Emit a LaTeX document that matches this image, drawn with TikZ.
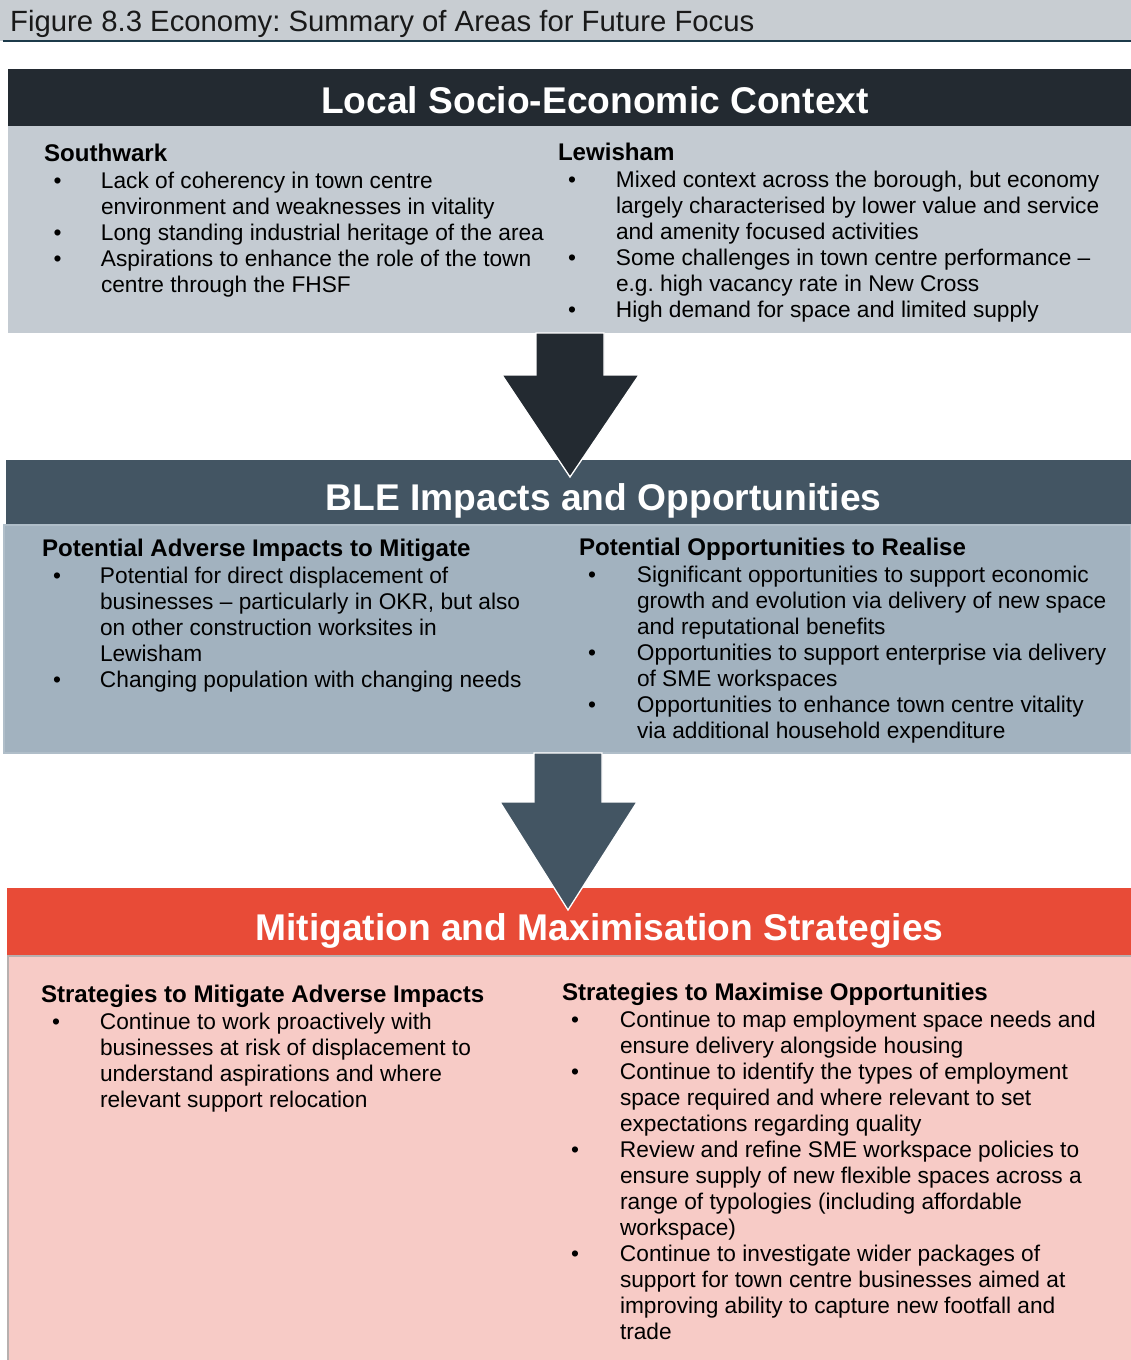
\documentclass[tikz,border=0pt]{standalone}
\usepackage{fontspec}
\setmainfont{Liberation Sans}
\usepackage{array}
\frenchspacing
\definecolor{titleband}{HTML}{C8CDD2}
\definecolor{titlerule}{HTML}{1C3A4A}
\definecolor{hdrA}{HTML}{232A31}
\definecolor{bodyA}{HTML}{C4CBD2}
\definecolor{hdrB}{HTML}{435563}
\definecolor{bodyB}{HTML}{A2B2BF}
\definecolor{hdrC}{HTML}{E84B37}
\definecolor{bodyC}{HTML}{F7CBC6}
\definecolor{edgeC}{HTML}{B8B0AF}
\newcommand{\bodyfnt}{\fontsize{22.7}{26}\selectfont}
\newcommand{\headfnt}{\fontsize{24.1}{28}\selectfont\bfseries}
\newcommand{\bl}{\textbullet}
\tikzset{
  panel/.style={anchor=north west, inner sep=0pt, outer sep=0pt},
  txt/.style={anchor=base west, inner sep=0pt, outer sep=0pt, font=\bodyfnt, text=black},
  colhead/.style={anchor=base west, inner sep=0pt, outer sep=0pt, font=\headfnt, text=black},
  bandtitle/.style={anchor=base, inner sep=0pt, outer sep=0pt, font=\fontsize{37.2}{40}\selectfont\bfseries, text=white},
  blockarrow/.style={draw=white, line width=1.3pt, line join=miter}
}
\begin{document}
\begin{tikzpicture}[x=1pt, y=-1pt]
\useasboundingbox (0,0) rectangle (1131,1360);

% figure title
\node[panel, fill=titleband, minimum width=1131pt, minimum height=41pt] (band) at (0,0) {};
\draw[titlerule, line width=2pt] (3,41) -- (1131,41);
\node[anchor=base west, inner sep=0pt, font=\fontsize{29.3}{32}\selectfont, text=black!90] (title) at (10,31)
  {Figure 8.3 Economy: Summary of Areas for Future Focus};

% ---------- panel 1 ----------
\node[panel, fill=hdrA, minimum width=1123pt, minimum height=57pt] (h1) at (8,69) {};
\node[panel, fill=bodyA, minimum width=1123pt, minimum height=207pt] (b1) at (8,126) {};
\node[bandtitle] (t1) at (595,113) {Local Socio-Economic Context};

\node[colhead] (s1h) at (44,161) {Southwark};
\node[txt] (s1l) at (53.5,188) {\begin{tabular}[t]{@{}p{47.5pt}@{}l@{}}
\bl & Lack of coherency in town centre\\
    & environment and weaknesses in vitality\\
\bl & Long standing industrial heritage of the area\\
\bl & Aspirations to enhance the role of the town\\
    & centre through the FHSF
\end{tabular}};

\node[colhead] (l1h) at (558,160) {Lewisham};
\node[txt] (l1l) at (568,187) {\begin{tabular}[t]{@{}p{48pt}@{}l@{}}
\bl & Mixed context across the borough, but economy\\
    & largely characterised by lower value and service\\
    & and amenity focused activities\\
\bl & Some challenges in town centre performance –\\
    & e.g. high vacancy rate in New Cross\\
\bl & High demand for space and limited supply
\end{tabular}};

% ---------- panel 2 ----------
\node[panel, fill=hdrB, minimum width=1125pt, minimum height=65pt] (h2) at (6,460) {};
\node[panel, fill=bodyB, draw=bodyB!85!white, line width=1.2pt, minimum width=1127pt, minimum height=228pt] (b2) at (4,525) {};
\node[bandtitle] (t2) at (603.5,510) {BLE Impacts and Opportunities};

\node[colhead] (a2h) at (42,556) {Potential Adverse Impacts to Mitigate};
\node[txt] (a2l) at (53,583) {\begin{tabular}[t]{@{}p{47pt}@{}l@{}}
\bl & Potential for direct displacement of\\
    & businesses – particularly in OKR, but also\\
    & on other construction worksites in\\
    & Lewisham\\
\bl & Changing population with changing needs
\end{tabular}};

\node[colhead] (o2h) at (579,555) {Potential Opportunities to Realise};
\node[txt] (o2l) at (588,582) {\begin{tabular}[t]{@{}p{49pt}@{}l@{}}
\bl & Significant opportunities to support economic\\
    & growth and evolution via delivery of new space\\
    & and reputational benefits\\
\bl & Opportunities to support enterprise via delivery\\
    & of SME workspaces\\
\bl & Opportunities to enhance town centre vitality\\
    & via additional household expenditure
\end{tabular}};

% ---------- panel 3 ----------
\node[panel, fill=hdrC, minimum width=1124pt, minimum height=68pt] (h3) at (7,888) {};
\node[panel, fill=bodyC, minimum width=1123pt, minimum height=404pt] (b3) at (8,956) {};
\draw[edgeC, line width=2pt] (b3.south west) -- (b3.north west) -- (b3.north east);
\node[bandtitle] (t3) at (599.5,940) {Mitigation and Maximisation Strategies};

\node[colhead] (m3h) at (41,1002) {Strategies to Mitigate Adverse Impacts};
\node[txt] (m3l) at (52,1029) {\begin{tabular}[t]{@{}p{48pt}@{}l@{}}
\bl & Continue to work proactively with\\
    & businesses at risk of displacement to\\
    & understand aspirations and where\\
    & relevant support relocation
\end{tabular}};

\node[colhead] (x3h) at (562,1000) {Strategies to Maximise Opportunities};
\node[txt] (x3l) at (571,1027) {\begin{tabular}[t]{@{}p{49pt}@{}l@{}}
\bl & Continue to map employment space needs and\\
    & ensure delivery alongside housing\\
\bl & Continue to identify the types of employment\\
    & space required and where relevant to set\\
    & expectations regarding quality\\
\bl & Review and refine SME workspace policies to\\
    & ensure supply of new flexible spaces across a\\
    & range of typologies (including affordable\\
    & workspace)\\
\bl & Continue to investigate wider packages of\\
    & support for town centre businesses aimed at\\
    & improving ability to capture new footfall and\\
    & trade
\end{tabular}};

% ---------- block arrows ----------
\filldraw[blockarrow, fill=hdrA] (536,333) -- (604,333) -- (604,375) -- (639,375)
  -- (570,477) -- (502,375) -- (536,375) -- cycle;
\filldraw[blockarrow, fill=hdrB] (534,753) -- (602,753) -- (602,802) -- (637,802)
  -- (568,910) -- (500,802) -- (534,802) -- cycle;
\end{tikzpicture}
\end{document}
